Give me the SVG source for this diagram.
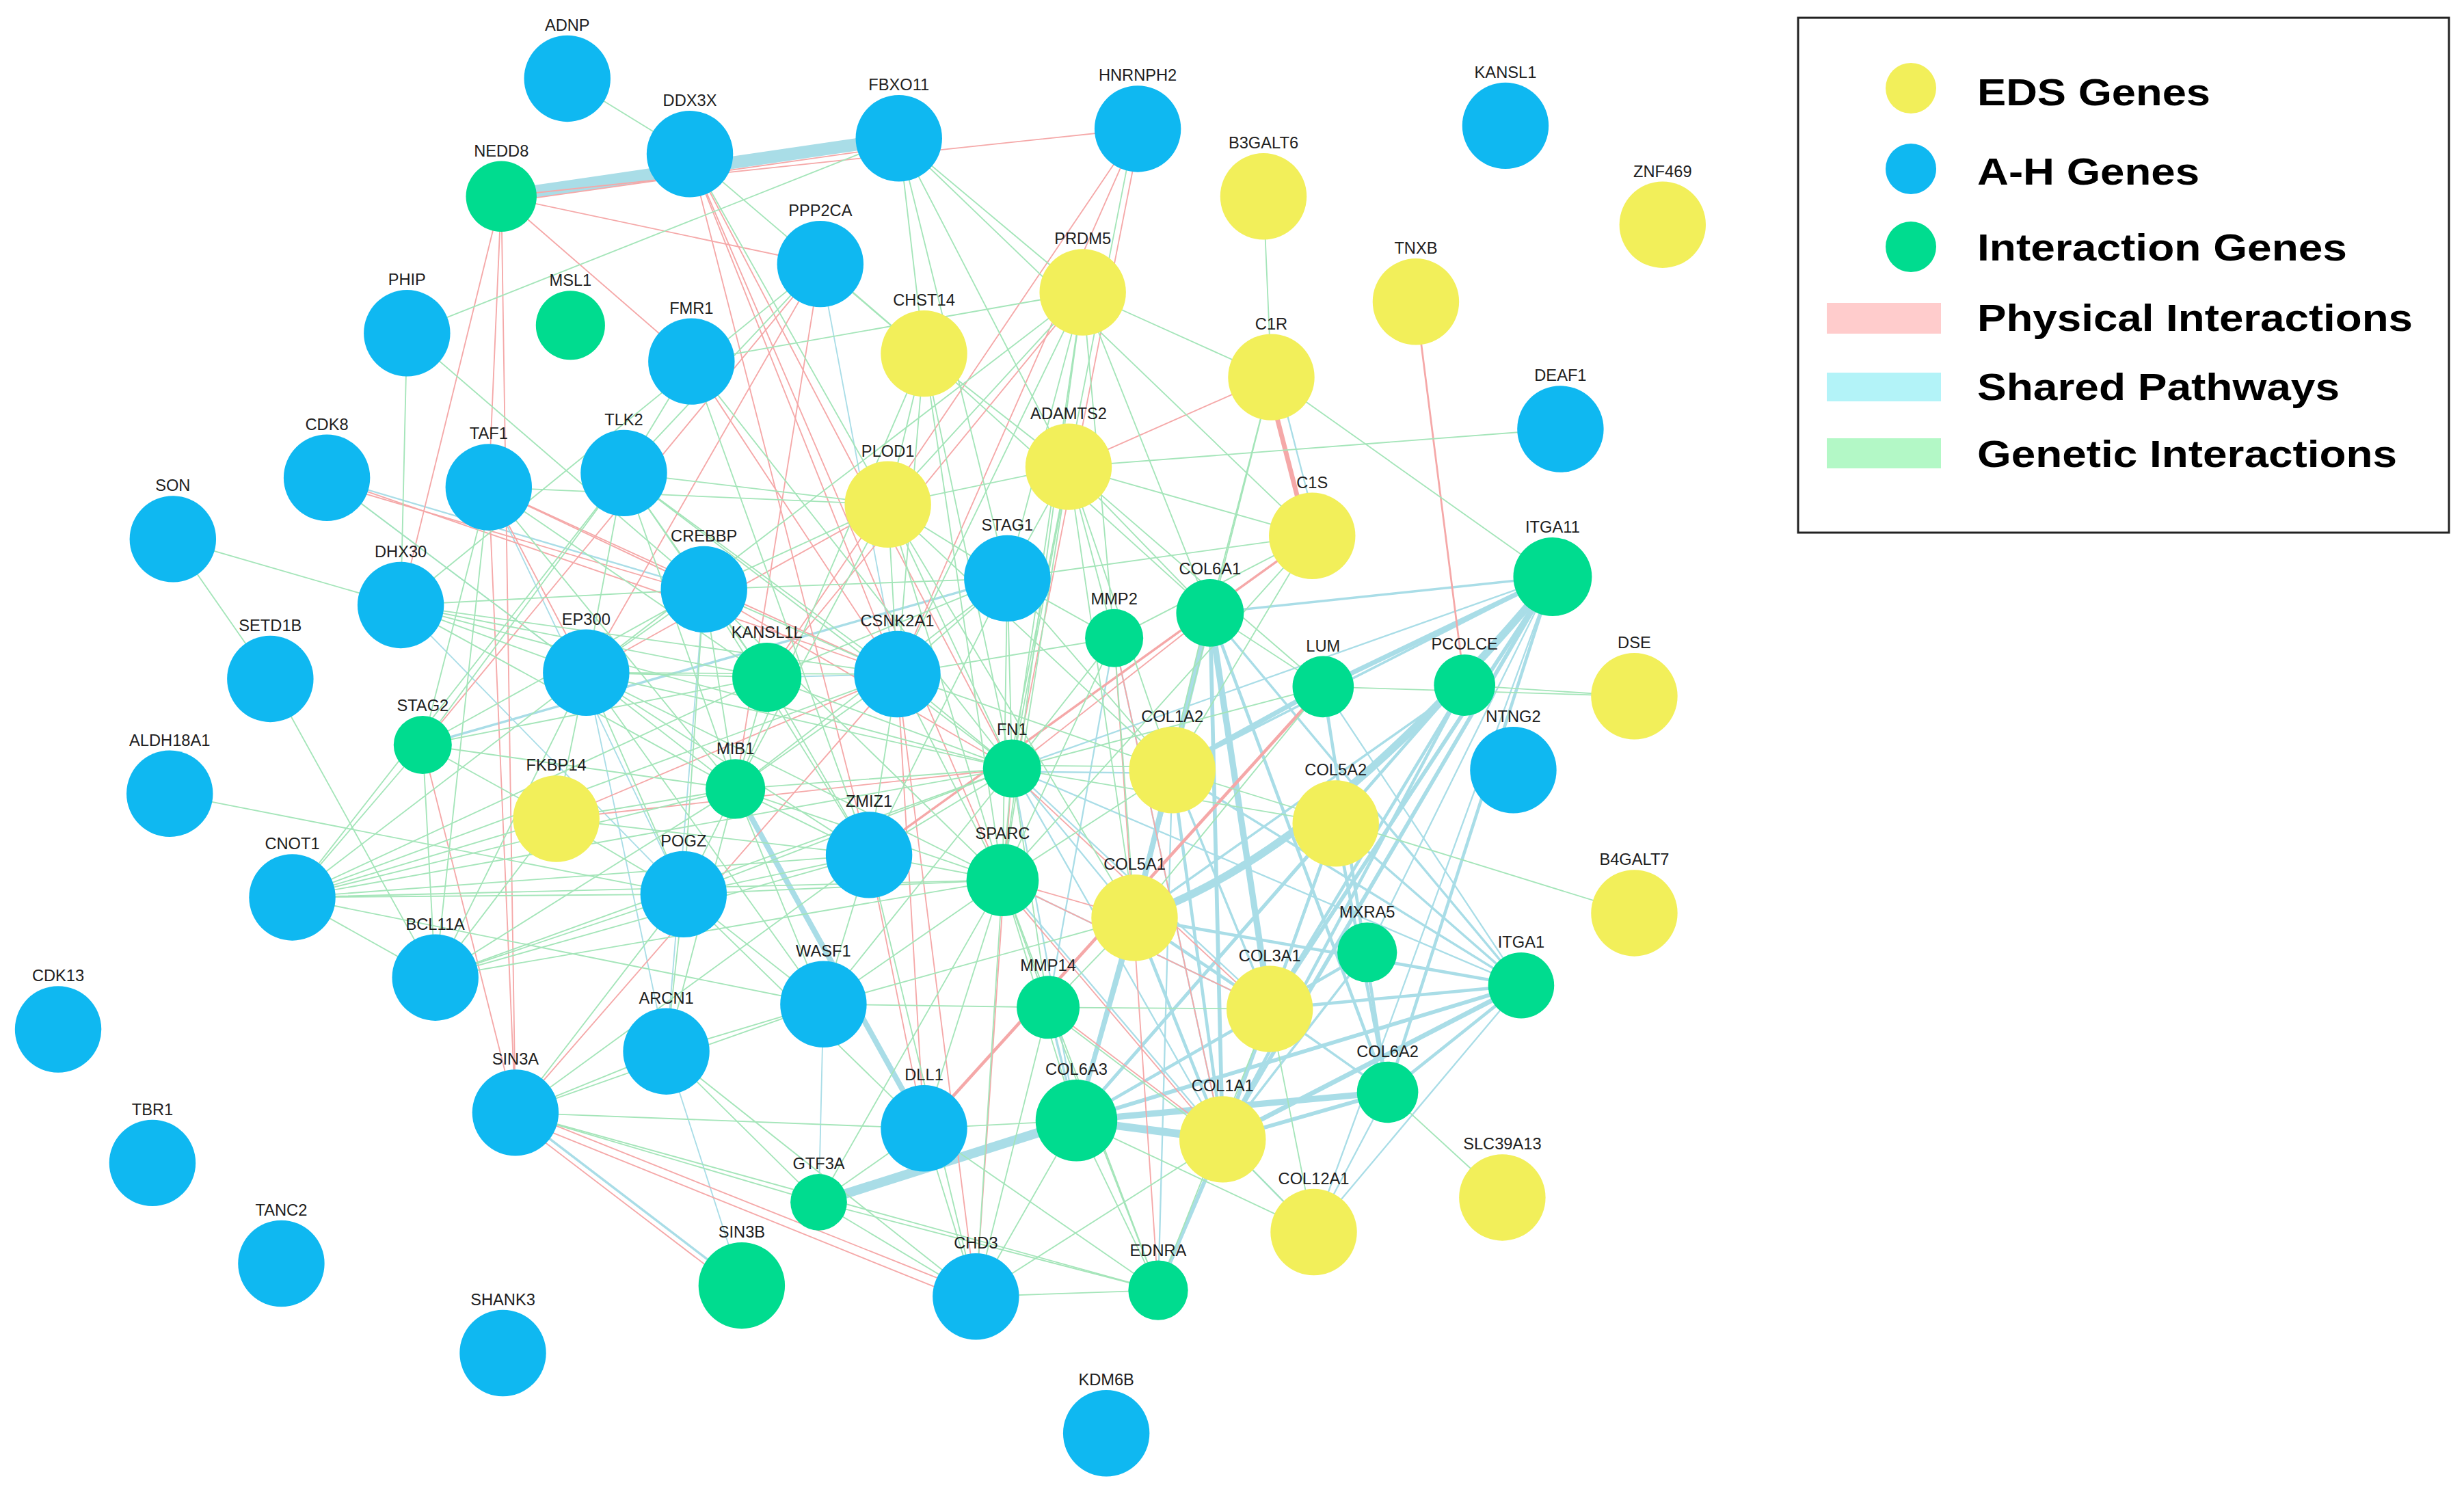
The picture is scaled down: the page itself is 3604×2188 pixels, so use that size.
<svg xmlns="http://www.w3.org/2000/svg" width="3604" height="2188" viewBox="0 0 3604 2188">
<style>
line,path{fill:none;stroke-linecap:round}
.p{stroke:#f5a8a8;stroke-width:0.8}
.s{stroke:#a9dde7;stroke-width:1}
.g{stroke:#a4e5b9;stroke-width:0.8}
.b{fill:#0fb8f1}
.y{fill:#f2ef5a}
.n{fill:#00dc8f}
.lb{font-family:"Liberation Sans",Arial,sans-serif;font-size:10.3px;fill:#1e1e1e;text-anchor:middle}
.lg{font-family:"Liberation Sans",Arial,sans-serif;font-weight:bold;font-size:55px;fill:#000}
</style>
<rect width="3604" height="2188" fill="#ffffff"/>
<g id="network" transform="scale(2.2985)">
<g id="connectors">
<g id="shared-pathways">
<line class="s" x1="319" y1="125" x2="572" y2="88" style="stroke-width:8"/>
<line class="s" x1="468" y1="502" x2="588" y2="718" style="stroke-width:3.5"/>
<line class="s" x1="521" y1="765" x2="685" y2="713" style="stroke-width:6"/>
<line class="s" x1="685" y1="713" x2="778" y2="725" style="stroke-width:5"/>
<line class="s" x1="685" y1="713" x2="883" y2="695" style="stroke-width:4"/>
<path class="s" d="M722,584 Q840,545 988,367" style="stroke-width:5"/>
<line class="s" x1="770" y1="390" x2="808" y2="642" style="stroke-width:4"/>
<line class="s" x1="770" y1="390" x2="722" y2="584" style="stroke-width:3.5"/>
<line class="s" x1="770" y1="390" x2="778" y2="725" style="stroke-width:2.5"/>
<line class="s" x1="770" y1="390" x2="883" y2="695" style="stroke-width:2"/>
<line class="s" x1="770" y1="390" x2="988" y2="367" style="stroke-width:1.5"/>
<line class="s" x1="842" y1="437" x2="988" y2="367" style="stroke-width:3"/>
<line class="s" x1="842" y1="437" x2="746" y2="490" style="stroke-width:3"/>
<line class="s" x1="842" y1="437" x2="883" y2="695" style="stroke-width:2"/>
<line class="s" x1="988" y1="367" x2="778" y2="725" style="stroke-width:2.5"/>
<line class="s" x1="988" y1="367" x2="808" y2="642" style="stroke-width:2.5"/>
<line class="s" x1="988" y1="367" x2="685" y2="713" style="stroke-width:2"/>
<line class="s" x1="988" y1="367" x2="883" y2="695" style="stroke-width:2"/>
<line class="s" x1="988" y1="367" x2="746" y2="490" style="stroke-width:1.5"/>
<line class="s" x1="988" y1="367" x2="836" y2="784"/>
<line class="s" x1="988" y1="367" x2="870" y2="606"/>
<line class="s" x1="932" y1="436" x2="778" y2="725" style="stroke-width:2"/>
<line class="s" x1="932" y1="436" x2="808" y2="642" style="stroke-width:2"/>
<line class="s" x1="932" y1="436" x2="722" y2="584" style="stroke-width:1.5"/>
<line class="s" x1="968" y1="627" x2="778" y2="725" style="stroke-width:3"/>
<line class="s" x1="968" y1="627" x2="685" y2="713" style="stroke-width:2.5"/>
<line class="s" x1="968" y1="627" x2="808" y2="642" style="stroke-width:2"/>
<line class="s" x1="968" y1="627" x2="722" y2="584" style="stroke-width:2"/>
<line class="s" x1="968" y1="627" x2="746" y2="490" style="stroke-width:1.5"/>
<line class="s" x1="968" y1="627" x2="770" y2="390" style="stroke-width:1.5"/>
<line class="s" x1="968" y1="627" x2="883" y2="695" style="stroke-width:2"/>
<line class="s" x1="968" y1="627" x2="850" y2="524" style="stroke-width:1.5"/>
<line class="s" x1="968" y1="627" x2="842" y2="437"/>
<line class="s" x1="968" y1="627" x2="836" y2="784"/>
<line class="s" x1="870" y1="606" x2="808" y2="642" style="stroke-width:2"/>
<line class="s" x1="870" y1="606" x2="778" y2="725" style="stroke-width:1.5"/>
<line class="s" x1="850" y1="524" x2="808" y2="642" style="stroke-width:2"/>
<line class="s" x1="850" y1="524" x2="685" y2="713" style="stroke-width:2"/>
<line class="s" x1="850" y1="524" x2="778" y2="725" style="stroke-width:1.5"/>
<line class="s" x1="850" y1="524" x2="883" y2="695" style="stroke-width:2"/>
<line class="s" x1="746" y1="490" x2="778" y2="725" style="stroke-width:2"/>
<line class="s" x1="746" y1="490" x2="808" y2="642" style="stroke-width:1.5"/>
<line class="s" x1="746" y1="490" x2="722" y2="584" style="stroke-width:2.5"/>
<line class="s" x1="746" y1="490" x2="685" y2="713" style="stroke-width:2"/>
<line class="s" x1="746" y1="490" x2="737" y2="821"/>
<line class="s" x1="722" y1="584" x2="778" y2="725" style="stroke-width:2"/>
<line class="s" x1="722" y1="584" x2="808" y2="642" style="stroke-width:2"/>
<line class="s" x1="722" y1="584" x2="685" y2="713" style="stroke-width:3"/>
<line class="s" x1="808" y1="642" x2="778" y2="725" style="stroke-width:2.5"/>
<line class="s" x1="808" y1="642" x2="883" y2="695" style="stroke-width:1.5"/>
<line class="s" x1="808" y1="642" x2="685" y2="713" style="stroke-width:2"/>
<line class="s" x1="778" y1="725" x2="737" y2="821" style="stroke-width:2.5"/>
<line class="s" x1="778" y1="725" x2="836" y2="784"/>
<line class="s" x1="883" y1="695" x2="778" y2="725" style="stroke-width:2.5"/>
<line class="s" x1="883" y1="695" x2="836" y2="784"/>
<line class="s" x1="644" y1="489" x2="778" y2="725"/>
<line class="s" x1="644" y1="489" x2="722" y2="584"/>
<line class="s" x1="644" y1="489" x2="808" y2="642"/>
<line class="s" x1="644" y1="489" x2="685" y2="713"/>
<line class="s" x1="644" y1="489" x2="968" y2="627"/>
<line class="s" x1="644" y1="489" x2="988" y2="367"/>
<line class="s" x1="644" y1="491" x2="746" y2="492"/>
<line class="s" x1="638" y1="560" x2="778" y2="725"/>
<line class="s" x1="638" y1="560" x2="808" y2="642"/>
<line class="s" x1="709" y1="406" x2="778" y2="725"/>
<line class="s" x1="709" y1="406" x2="667" y2="641"/>
<line class="s" x1="667" y1="641" x2="685" y2="713" style="stroke-width:1.5"/>
<line class="s" x1="269" y1="474" x2="641" y2="368" style="stroke-width:1.5"/>
<line class="s" x1="208" y1="304" x2="448" y2="375"/>
<line class="s" x1="208" y1="304" x2="373" y2="428" style="stroke-width:0.8"/>
<line class="s" x1="311" y1="310" x2="435" y2="569" style="stroke-width:0.8"/>
<line class="s" x1="255" y1="385" x2="435" y2="569" style="stroke-width:0.8"/>
<line class="s" x1="373" y1="428" x2="424" y2="669" style="stroke-width:0.8"/>
<line class="s" x1="448" y1="375" x2="424" y2="669" style="stroke-width:0.8"/>
<line class="s" x1="328" y1="708" x2="472" y2="818" style="stroke-width:1.5"/>
<line class="s" x1="424" y1="669" x2="472" y2="818" style="stroke-width:0.8"/>
<line class="s" x1="522" y1="168" x2="571" y2="429" style="stroke-width:0.8"/>
<line class="s" x1="524" y1="639" x2="521" y2="765" style="stroke-width:0.8"/>
<line class="s" x1="488" y1="431" x2="571" y2="429" style="stroke-width:0.8"/>
<line class="s" x1="813" y1="240" x2="839" y2="341"/>
</g>
<g id="physical-interactions">
<line class="p" x1="319" y1="125" x2="724" y2="82"/>
<line class="p" x1="319" y1="129" x2="572" y2="93"/>
<line class="p" x1="319" y1="125" x2="522" y2="168"/>
<line class="p" x1="319" y1="125" x2="440" y2="230"/>
<line class="p" x1="319" y1="125" x2="311" y2="310"/>
<line class="p" x1="319" y1="125" x2="255" y2="385"/>
<line class="p" x1="319" y1="125" x2="328" y2="708"/>
<line class="p" x1="439" y1="98" x2="553" y2="544"/>
<line class="p" x1="439" y1="98" x2="571" y2="429"/>
<line class="p" x1="439" y1="98" x2="644" y2="489"/>
<line class="p" x1="439" y1="98" x2="638" y2="560"/>
<line class="p" x1="724" y1="82" x2="571" y2="429"/>
<line class="p" x1="724" y1="82" x2="488" y2="431"/>
<line class="p" x1="726" y1="82" x2="646" y2="489"/>
<line class="p" x1="689" y1="186" x2="488" y2="431"/>
<line class="p" x1="522" y1="168" x2="373" y2="428"/>
<line class="p" x1="522" y1="168" x2="468" y2="502"/>
<line class="p" x1="522" y1="168" x2="269" y2="474"/>
<line class="p" x1="806" y1="240" x2="832" y2="341" style="stroke-width:3"/>
<line class="p" x1="809" y1="240" x2="680" y2="297"/>
<line class="p" x1="835" y1="341" x2="553" y2="544" style="stroke-width:1.5"/>
<line class="p" x1="901" y1="192" x2="932" y2="436" style="stroke-width:1.2"/>
<line class="p" x1="842" y1="437" x2="588" y2="718" style="stroke-width:2"/>
<line class="p" x1="709" y1="406" x2="778" y2="725"/>
<line class="p" x1="709" y1="406" x2="737" y2="821"/>
<line class="p" x1="638" y1="560" x2="808" y2="642"/>
<line class="p" x1="638" y1="563" x2="778" y2="728"/>
<line class="p" x1="638" y1="560" x2="722" y2="584"/>
<line class="p" x1="644" y1="492" x2="808" y2="645"/>
<line class="p" x1="644" y1="489" x2="770" y2="390"/>
<line class="p" x1="667" y1="641" x2="778" y2="725"/>
<line class="p" x1="311" y1="310" x2="571" y2="429"/>
<line class="p" x1="208" y1="304" x2="571" y2="429"/>
<line class="p" x1="208" y1="307" x2="448" y2="378"/>
<line class="p" x1="311" y1="310" x2="448" y2="375"/>
<line class="p" x1="311" y1="310" x2="373" y2="428"/>
<line class="p" x1="448" y1="375" x2="644" y2="489"/>
<line class="p" x1="354" y1="521" x2="644" y2="489"/>
<line class="p" x1="354" y1="521" x2="571" y2="429"/>
<line class="p" x1="373" y1="428" x2="565" y2="321"/>
<line class="p" x1="328" y1="706" x2="621" y2="823"/>
<line class="p" x1="330" y1="712" x2="620" y2="829"/>
<line class="p" x1="326" y1="711" x2="470" y2="821"/>
<line class="p" x1="311" y1="310" x2="328" y2="708"/>
<line class="p" x1="269" y1="474" x2="328" y2="708"/>
<line class="p" x1="328" y1="708" x2="571" y2="429"/>
<line class="p" x1="571" y1="429" x2="621" y2="825"/>
<line class="p" x1="644" y1="489" x2="621" y2="825"/>
<line class="p" x1="440" y1="230" x2="571" y2="429"/>
<line class="p" x1="571" y1="429" x2="588" y2="718"/>
<line class="p" x1="553" y1="544" x2="588" y2="718"/>
</g>
<g id="genetic-interactions">
<line class="g" x1="361" y1="50" x2="439" y2="98"/>
<line class="g" x1="439" y1="98" x2="588" y2="225"/>
<line class="g" x1="439" y1="98" x2="565" y2="321"/>
<line class="g" x1="572" y1="88" x2="259" y2="212"/>
<line class="g" x1="572" y1="88" x2="588" y2="225"/>
<line class="g" x1="572" y1="88" x2="641" y2="368"/>
<line class="g" x1="572" y1="88" x2="689" y2="186"/>
<line class="g" x1="572" y1="88" x2="835" y2="341"/>
<line class="g" x1="572" y1="88" x2="680" y2="297"/>
<line class="g" x1="722" y1="82" x2="642" y2="489"/>
<line class="g" x1="804" y1="125" x2="809" y2="240"/>
<line class="g" x1="689" y1="186" x2="565" y2="321"/>
<line class="g" x1="689" y1="186" x2="809" y2="240"/>
<line class="g" x1="689" y1="186" x2="641" y2="368"/>
<line class="g" x1="689" y1="186" x2="644" y2="489"/>
<line class="g" x1="689" y1="186" x2="638" y2="560"/>
<line class="g" x1="689" y1="186" x2="709" y2="406"/>
<line class="g" x1="689" y1="186" x2="571" y2="429"/>
<line class="g" x1="689" y1="186" x2="440" y2="230"/>
<line class="g" x1="689" y1="186" x2="373" y2="428"/>
<line class="g" x1="689" y1="186" x2="770" y2="390"/>
<line class="g" x1="588" y1="225" x2="565" y2="321"/>
<line class="g" x1="588" y1="225" x2="571" y2="429"/>
<line class="g" x1="588" y1="225" x2="644" y2="489"/>
<line class="g" x1="588" y1="225" x2="638" y2="560"/>
<line class="g" x1="588" y1="225" x2="680" y2="297"/>
<line class="g" x1="588" y1="225" x2="522" y2="168"/>
<line class="g" x1="588" y1="225" x2="770" y2="390"/>
<line class="g" x1="588" y1="225" x2="468" y2="502"/>
<line class="g" x1="522" y1="168" x2="397" y2="301"/>
<line class="g" x1="522" y1="168" x2="255" y2="385"/>
<line class="g" x1="440" y1="230" x2="397" y2="301"/>
<line class="g" x1="440" y1="230" x2="644" y2="489"/>
<line class="g" x1="440" y1="230" x2="553" y2="544"/>
<line class="g" x1="259" y1="212" x2="255" y2="385"/>
<line class="g" x1="259" y1="212" x2="448" y2="375"/>
<line class="g" x1="397" y1="301" x2="448" y2="375"/>
<line class="g" x1="397" y1="301" x2="373" y2="428"/>
<line class="g" x1="397" y1="301" x2="644" y2="489"/>
<line class="g" x1="397" y1="301" x2="468" y2="502"/>
<line class="g" x1="397" y1="301" x2="488" y2="431"/>
<line class="g" x1="397" y1="301" x2="571" y2="429"/>
<line class="g" x1="397" y1="301" x2="269" y2="474"/>
<line class="g" x1="397" y1="301" x2="186" y2="571"/>
<line class="g" x1="311" y1="310" x2="269" y2="474"/>
<line class="g" x1="311" y1="310" x2="468" y2="502"/>
<line class="g" x1="311" y1="310" x2="488" y2="431"/>
<line class="g" x1="311" y1="310" x2="277" y2="622"/>
<line class="g" x1="208" y1="304" x2="373" y2="428"/>
<line class="g" x1="110" y1="343" x2="255" y2="385"/>
<line class="g" x1="110" y1="343" x2="172" y2="432"/>
<line class="g" x1="172" y1="432" x2="277" y2="622"/>
<line class="g" x1="108" y1="505" x2="435" y2="569"/>
<line class="g" x1="186" y1="571" x2="269" y2="474"/>
<line class="g" x1="186" y1="571" x2="373" y2="428"/>
<line class="g" x1="186" y1="571" x2="468" y2="502"/>
<line class="g" x1="186" y1="571" x2="488" y2="431"/>
<line class="g" x1="186" y1="571" x2="644" y2="489"/>
<line class="g" x1="186" y1="571" x2="571" y2="429"/>
<line class="g" x1="186" y1="571" x2="354" y2="521"/>
<line class="g" x1="186" y1="571" x2="435" y2="569"/>
<line class="g" x1="186" y1="571" x2="553" y2="544"/>
<line class="g" x1="186" y1="571" x2="638" y2="560"/>
<line class="g" x1="186" y1="571" x2="277" y2="622"/>
<line class="g" x1="186" y1="571" x2="524" y2="639"/>
<line class="g" x1="277" y1="622" x2="373" y2="428"/>
<line class="g" x1="277" y1="622" x2="468" y2="502"/>
<line class="g" x1="277" y1="622" x2="435" y2="569"/>
<line class="g" x1="277" y1="622" x2="553" y2="544"/>
<line class="g" x1="277" y1="622" x2="354" y2="521"/>
<line class="g" x1="277" y1="622" x2="638" y2="560"/>
<line class="g" x1="277" y1="622" x2="269" y2="474"/>
<line class="g" x1="277" y1="622" x2="644" y2="489"/>
<line class="g" x1="255" y1="385" x2="373" y2="428"/>
<line class="g" x1="255" y1="385" x2="488" y2="431"/>
<line class="g" x1="255" y1="385" x2="644" y2="489"/>
<line class="g" x1="255" y1="385" x2="571" y2="429"/>
<line class="g" x1="255" y1="385" x2="468" y2="502"/>
<line class="g" x1="255" y1="385" x2="448" y2="375"/>
<line class="g" x1="269" y1="474" x2="468" y2="502"/>
<line class="g" x1="269" y1="474" x2="448" y2="375"/>
<line class="g" x1="269" y1="474" x2="354" y2="521"/>
<line class="g" x1="269" y1="474" x2="488" y2="431"/>
<line class="g" x1="373" y1="428" x2="448" y2="375"/>
<line class="g" x1="373" y1="428" x2="488" y2="431"/>
<line class="g" x1="373" y1="428" x2="468" y2="502"/>
<line class="g" x1="373" y1="428" x2="571" y2="429"/>
<line class="g" x1="373" y1="428" x2="644" y2="489"/>
<line class="g" x1="373" y1="428" x2="553" y2="544"/>
<line class="g" x1="373" y1="428" x2="435" y2="569"/>
<line class="g" x1="373" y1="428" x2="354" y2="521"/>
<line class="g" x1="373" y1="428" x2="638" y2="560"/>
<line class="g" x1="373" y1="428" x2="524" y2="639"/>
<line class="g" x1="448" y1="375" x2="488" y2="431"/>
<line class="g" x1="448" y1="375" x2="571" y2="429"/>
<line class="g" x1="448" y1="375" x2="468" y2="502"/>
<line class="g" x1="448" y1="375" x2="641" y2="368"/>
<line class="g" x1="448" y1="375" x2="435" y2="569"/>
<line class="g" x1="448" y1="375" x2="553" y2="544"/>
<line class="g" x1="448" y1="375" x2="638" y2="560"/>
<line class="g" x1="448" y1="375" x2="565" y2="321"/>
<line class="g" x1="488" y1="431" x2="644" y2="489"/>
<line class="g" x1="488" y1="431" x2="468" y2="502"/>
<line class="g" x1="488" y1="431" x2="641" y2="368"/>
<line class="g" x1="488" y1="431" x2="553" y2="544"/>
<line class="g" x1="571" y1="429" x2="644" y2="489"/>
<line class="g" x1="571" y1="429" x2="641" y2="368"/>
<line class="g" x1="571" y1="429" x2="468" y2="502"/>
<line class="g" x1="571" y1="429" x2="638" y2="560"/>
<line class="g" x1="571" y1="429" x2="553" y2="544"/>
<line class="g" x1="571" y1="429" x2="709" y2="406"/>
<line class="g" x1="571" y1="429" x2="746" y2="490"/>
<line class="g" x1="571" y1="429" x2="565" y2="321"/>
<line class="g" x1="468" y1="502" x2="644" y2="489"/>
<line class="g" x1="468" y1="502" x2="435" y2="569"/>
<line class="g" x1="468" y1="502" x2="553" y2="544"/>
<line class="g" x1="468" y1="502" x2="638" y2="560"/>
<line class="g" x1="468" y1="502" x2="354" y2="521"/>
<line class="g" x1="468" y1="502" x2="524" y2="639"/>
<line class="g" x1="468" y1="502" x2="424" y2="669"/>
<line class="g" x1="644" y1="489" x2="638" y2="560"/>
<line class="g" x1="644" y1="487" x2="746" y2="488"/>
<line class="g" x1="644" y1="489" x2="709" y2="406"/>
<line class="g" x1="644" y1="489" x2="641" y2="368"/>
<line class="g" x1="644" y1="489" x2="553" y2="544"/>
<line class="g" x1="644" y1="489" x2="667" y2="641"/>
<line class="g" x1="644" y1="489" x2="842" y2="437"/>
<line class="g" x1="644" y1="489" x2="435" y2="569"/>
<line class="g" x1="644" y1="489" x2="524" y2="639"/>
<line class="g" x1="644" y1="489" x2="680" y2="297"/>
<line class="g" x1="644" y1="489" x2="565" y2="321"/>
<line class="g" x1="644" y1="489" x2="850" y2="524"/>
<line class="g" x1="638" y1="560" x2="553" y2="544"/>
<line class="g" x1="638" y1="560" x2="667" y2="641"/>
<line class="g" x1="638" y1="560" x2="746" y2="490"/>
<line class="g" x1="638" y1="560" x2="588" y2="718"/>
<line class="g" x1="638" y1="560" x2="435" y2="569"/>
<line class="g" x1="638" y1="560" x2="524" y2="639"/>
<line class="g" x1="638" y1="560" x2="621" y2="825"/>
<line class="g" x1="638" y1="560" x2="521" y2="765"/>
<line class="g" x1="638" y1="560" x2="685" y2="713"/>
<line class="g" x1="638" y1="560" x2="737" y2="821"/>
<line class="g" x1="553" y1="544" x2="435" y2="569"/>
<line class="g" x1="553" y1="544" x2="524" y2="639"/>
<line class="g" x1="553" y1="544" x2="621" y2="825"/>
<line class="g" x1="553" y1="544" x2="354" y2="521"/>
<line class="g" x1="435" y1="569" x2="524" y2="639"/>
<line class="g" x1="435" y1="569" x2="424" y2="669"/>
<line class="g" x1="435" y1="569" x2="328" y2="708"/>
<line class="g" x1="435" y1="569" x2="354" y2="521"/>
<line class="g" x1="435" y1="569" x2="588" y2="718"/>
<line class="g" x1="524" y1="639" x2="667" y2="641"/>
<line class="g" x1="524" y1="639" x2="328" y2="708"/>
<line class="g" x1="524" y1="639" x2="424" y2="669"/>
<line class="g" x1="524" y1="639" x2="722" y2="584"/>
<line class="g" x1="424" y1="669" x2="328" y2="708"/>
<line class="g" x1="424" y1="669" x2="521" y2="765"/>
<line class="g" x1="424" y1="669" x2="621" y2="825"/>
<line class="g" x1="328" y1="708" x2="521" y2="765"/>
<line class="g" x1="328" y1="708" x2="737" y2="821"/>
<line class="g" x1="328" y1="708" x2="588" y2="718"/>
<line class="g" x1="328" y1="708" x2="553" y2="544"/>
<line class="g" x1="521" y1="765" x2="621" y2="825"/>
<line class="g" x1="521" y1="765" x2="737" y2="821"/>
<line class="g" x1="521" y1="765" x2="588" y2="718"/>
<line class="g" x1="621" y1="825" x2="737" y2="821"/>
<line class="g" x1="621" y1="825" x2="588" y2="718"/>
<line class="g" x1="621" y1="825" x2="667" y2="641"/>
<line class="g" x1="621" y1="825" x2="685" y2="713"/>
<line class="g" x1="621" y1="825" x2="778" y2="725"/>
<line class="g" x1="737" y1="821" x2="685" y2="713"/>
<line class="g" x1="737" y1="821" x2="667" y2="641"/>
<line class="g" x1="737" y1="821" x2="588" y2="718"/>
<line class="g" x1="737" y1="821" x2="808" y2="642"/>
<line class="g" x1="667" y1="643" x2="778" y2="727"/>
<line class="g" x1="667" y1="641" x2="722" y2="584"/>
<line class="g" x1="667" y1="641" x2="808" y2="642"/>
<line class="g" x1="685" y1="713" x2="588" y2="718"/>
<line class="g" x1="565" y1="321" x2="680" y2="297"/>
<line class="g" x1="565" y1="321" x2="641" y2="368"/>
<line class="g" x1="565" y1="321" x2="638" y2="560"/>
<line class="g" x1="565" y1="321" x2="468" y2="502"/>
<line class="g" x1="565" y1="321" x2="397" y2="301"/>
<line class="g" x1="565" y1="321" x2="311" y2="310"/>
<line class="g" x1="565" y1="321" x2="746" y2="490"/>
<line class="g" x1="565" y1="321" x2="722" y2="584"/>
<line class="g" x1="680" y1="297" x2="993" y2="273"/>
<line class="g" x1="680" y1="297" x2="641" y2="368"/>
<line class="g" x1="680" y1="297" x2="638" y2="560"/>
<line class="g" x1="680" y1="297" x2="770" y2="390"/>
<line class="g" x1="680" y1="297" x2="835" y2="341"/>
<line class="g" x1="680" y1="297" x2="709" y2="406"/>
<line class="g" x1="680" y1="297" x2="746" y2="490"/>
<line class="g" x1="680" y1="297" x2="722" y2="584"/>
<line class="g" x1="680" y1="297" x2="842" y2="437"/>
<line class="g" x1="809" y1="240" x2="988" y2="367"/>
<line class="g" x1="809" y1="240" x2="770" y2="390"/>
<line class="g" x1="809" y1="240" x2="746" y2="490"/>
<line class="g" x1="835" y1="341" x2="641" y2="368"/>
<line class="g" x1="835" y1="341" x2="709" y2="406"/>
<line class="g" x1="835" y1="341" x2="746" y2="490"/>
<line class="g" x1="835" y1="341" x2="638" y2="560"/>
<line class="g" x1="641" y1="368" x2="709" y2="406"/>
<line class="g" x1="641" y1="368" x2="638" y2="560"/>
<line class="g" x1="641" y1="368" x2="746" y2="490"/>
<line class="g" x1="641" y1="368" x2="553" y2="544"/>
<line class="g" x1="641" y1="368" x2="468" y2="502"/>
<line class="g" x1="770" y1="390" x2="842" y2="437"/>
<line class="g" x1="768" y1="390" x2="744" y2="490"/>
<line class="g" x1="1040" y1="443" x2="932" y2="436"/>
<line class="g" x1="1040" y1="443" x2="842" y2="437"/>
<line class="g" x1="1040" y1="581" x2="746" y2="490"/>
<line class="g" x1="956" y1="762" x2="883" y2="695"/>
<line class="g" x1="836" y1="784" x2="778" y2="725"/>
<line class="g" x1="836" y1="784" x2="808" y2="642"/>
<line class="g" x1="836" y1="784" x2="685" y2="713"/>
<line class="g" x1="709" y1="406" x2="722" y2="584"/>
<line class="g" x1="709" y1="406" x2="638" y2="560"/>
<line class="g" x1="842" y1="437" x2="722" y2="584"/>
</g>
</g>
<g id="nodes">
<g id="node-ADNP"><circle class="b" cx="361" cy="50" r="27.5"/><text class="lb" x="361" y="19.5">ADNP</text></g>
<g id="node-DDX3X"><circle class="b" cx="439" cy="98" r="27.5"/><text class="lb" x="439" y="67.5">DDX3X</text></g>
<g id="node-FBXO11"><circle class="b" cx="572" cy="88" r="27.5"/><text class="lb" x="572" y="57.5">FBXO11</text></g>
<g id="node-HNRNPH2"><circle class="b" cx="724" cy="82" r="27.5"/><text class="lb" x="724" y="51.5">HNRNPH2</text></g>
<g id="node-KANSL1"><circle class="b" cx="958" cy="80" r="27.5"/><text class="lb" x="958" y="49.5">KANSL1</text></g>
<g id="node-NEDD8"><circle class="n" cx="319" cy="125" r="22.5"/><text class="lb" x="319" y="99.5">NEDD8</text></g>
<g id="node-B3GALT6"><circle class="y" cx="804" cy="125" r="27.5"/><text class="lb" x="804" y="94.5">B3GALT6</text></g>
<g id="node-ZNF469"><circle class="y" cx="1058" cy="143" r="27.5"/><text class="lb" x="1058" y="112.5">ZNF469</text></g>
<g id="node-PPP2CA"><circle class="b" cx="522" cy="168" r="27.5"/><text class="lb" x="522" y="137.5">PPP2CA</text></g>
<g id="node-PHIP"><circle class="b" cx="259" cy="212" r="27.5"/><text class="lb" x="259" y="181.5">PHIP</text></g>
<g id="node-MSL1"><circle class="n" cx="363" cy="207" r="22"/><text class="lb" x="363" y="182">MSL1</text></g>
<g id="node-FMR1"><circle class="b" cx="440" cy="230" r="27.5"/><text class="lb" x="440" y="199.5">FMR1</text></g>
<g id="node-CHST14"><circle class="y" cx="588" cy="225" r="27.5"/><text class="lb" x="588" y="194.5">CHST14</text></g>
<g id="node-PRDM5"><circle class="y" cx="689" cy="186" r="27.5"/><text class="lb" x="689" y="155.5">PRDM5</text></g>
<g id="node-TNXB"><circle class="y" cx="901" cy="192" r="27.5"/><text class="lb" x="901" y="161.5">TNXB</text></g>
<g id="node-C1R"><circle class="y" cx="809" cy="240" r="27.5"/><text class="lb" x="809" y="209.5">C1R</text></g>
<g id="node-DEAF1"><circle class="b" cx="993" cy="273" r="27.5"/><text class="lb" x="993" y="242.5">DEAF1</text></g>
<g id="node-CDK8"><circle class="b" cx="208" cy="304" r="27.5"/><text class="lb" x="208" y="273.5">CDK8</text></g>
<g id="node-TAF1"><circle class="b" cx="311" cy="310" r="27.5"/><text class="lb" x="311" y="279.5">TAF1</text></g>
<g id="node-TLK2"><circle class="b" cx="397" cy="301" r="27.5"/><text class="lb" x="397" y="270.5">TLK2</text></g>
<g id="node-PLOD1"><circle class="y" cx="565" cy="321" r="27.5"/><text class="lb" x="565" y="290.5">PLOD1</text></g>
<g id="node-ADAMTS2"><circle class="y" cx="680" cy="297" r="27.5"/><text class="lb" x="680" y="266.5">ADAMTS2</text></g>
<g id="node-C1S"><circle class="y" cx="835" cy="341" r="27.5"/><text class="lb" x="835" y="310.5">C1S</text></g>
<g id="node-SON"><circle class="b" cx="110" cy="343" r="27.5"/><text class="lb" x="110" y="312.5">SON</text></g>
<g id="node-DHX30"><circle class="b" cx="255" cy="385" r="27.5"/><text class="lb" x="255" y="354.5">DHX30</text></g>
<g id="node-CREBBP"><circle class="b" cx="448" cy="375" r="27.5"/><text class="lb" x="448" y="344.5">CREBBP</text></g>
<g id="node-STAG1"><circle class="b" cx="641" cy="368" r="27.5"/><text class="lb" x="641" y="337.5">STAG1</text></g>
<g id="node-COL6A1"><circle class="n" cx="770" cy="390" r="21.5"/><text class="lb" x="770" y="365.5">COL6A1</text></g>
<g id="node-ITGA11"><circle class="n" cx="988" cy="367" r="25"/><text class="lb" x="988" y="339">ITGA11</text></g>
<g id="node-MMP2"><circle class="n" cx="709" cy="406" r="18.5"/><text class="lb" x="709" y="384.5">MMP2</text></g>
<g id="node-SETD1B"><circle class="b" cx="172" cy="432" r="27.5"/><text class="lb" x="172" y="401.5">SETD1B</text></g>
<g id="node-EP300"><circle class="b" cx="373" cy="428" r="27.5"/><text class="lb" x="373" y="397.5">EP300</text></g>
<g id="node-KANSL1L"><circle class="n" cx="488" cy="431" r="22"/><text class="lb" x="488" y="406">KANSL1L</text></g>
<g id="node-CSNK2A1"><circle class="b" cx="571" cy="429" r="27.5"/><text class="lb" x="571" y="398.5">CSNK2A1</text></g>
<g id="node-LUM"><circle class="n" cx="842" cy="437" r="19.5"/><text class="lb" x="842" y="414.5">LUM</text></g>
<g id="node-PCOLCE"><circle class="n" cx="932" cy="436" r="19.5"/><text class="lb" x="932" y="413.5">PCOLCE</text></g>
<g id="node-DSE"><circle class="y" cx="1040" cy="443" r="27.5"/><text class="lb" x="1040" y="412.5">DSE</text></g>
<g id="node-STAG2"><circle class="n" cx="269" cy="474" r="18.5"/><text class="lb" x="269" y="452.5">STAG2</text></g>
<g id="node-ALDH18A1"><circle class="b" cx="108" cy="505" r="27.5"/><text class="lb" x="108" y="474.5">ALDH18A1</text></g>
<g id="node-MIB1"><circle class="n" cx="468" cy="502" r="19"/><text class="lb" x="468" y="480">MIB1</text></g>
<g id="node-FN1"><circle class="n" cx="644" cy="489" r="18.5"/><text class="lb" x="644" y="467.5">FN1</text></g>
<g id="node-COL1A2"><circle class="y" cx="746" cy="490" r="27.5"/><text class="lb" x="746" y="459.5">COL1A2</text></g>
<g id="node-NTNG2"><circle class="b" cx="963" cy="490" r="27.5"/><text class="lb" x="963" y="459.5">NTNG2</text></g>
<g id="node-FKBP14"><circle class="y" cx="354" cy="521" r="27.5"/><text class="lb" x="354" y="490.5">FKBP14</text></g>
<g id="node-COL5A2"><circle class="y" cx="850" cy="524" r="27.5"/><text class="lb" x="850" y="493.5">COL5A2</text></g>
<g id="node-ZMIZ1"><circle class="b" cx="553" cy="544" r="27.5"/><text class="lb" x="553" y="513.5">ZMIZ1</text></g>
<g id="node-CNOT1"><circle class="b" cx="186" cy="571" r="27.5"/><text class="lb" x="186" y="540.5">CNOT1</text></g>
<g id="node-POGZ"><circle class="b" cx="435" cy="569" r="27.5"/><text class="lb" x="435" y="538.5">POGZ</text></g>
<g id="node-SPARC"><circle class="n" cx="638" cy="560" r="23"/><text class="lb" x="638" y="534">SPARC</text></g>
<g id="node-COL5A1"><circle class="y" cx="722" cy="584" r="27.5"/><text class="lb" x="722" y="553.5">COL5A1</text></g>
<g id="node-B4GALT7"><circle class="y" cx="1040" cy="581" r="27.5"/><text class="lb" x="1040" y="550.5">B4GALT7</text></g>
<g id="node-MXRA5"><circle class="n" cx="870" cy="606" r="19"/><text class="lb" x="870" y="584">MXRA5</text></g>
<g id="node-BCL11A"><circle class="b" cx="277" cy="622" r="27.5"/><text class="lb" x="277" y="591.5">BCL11A</text></g>
<g id="node-ITGA1"><circle class="n" cx="968" cy="627" r="21"/><text class="lb" x="968" y="603">ITGA1</text></g>
<g id="node-CDK13"><circle class="b" cx="37" cy="655" r="27.5"/><text class="lb" x="37" y="624.5">CDK13</text></g>
<g id="node-WASF1"><circle class="b" cx="524" cy="639" r="27.5"/><text class="lb" x="524" y="608.5">WASF1</text></g>
<g id="node-MMP14"><circle class="n" cx="667" cy="641" r="20"/><text class="lb" x="667" y="618">MMP14</text></g>
<g id="node-COL3A1"><circle class="y" cx="808" cy="642" r="27.5"/><text class="lb" x="808" y="611.5">COL3A1</text></g>
<g id="node-ARCN1"><circle class="b" cx="424" cy="669" r="27.5"/><text class="lb" x="424" y="638.5">ARCN1</text></g>
<g id="node-COL6A2"><circle class="n" cx="883" cy="695" r="19.5"/><text class="lb" x="883" y="672.5">COL6A2</text></g>
<g id="node-SIN3A"><circle class="b" cx="328" cy="708" r="27.5"/><text class="lb" x="328" y="677.5">SIN3A</text></g>
<g id="node-COL6A3"><circle class="n" cx="685" cy="713" r="26"/><text class="lb" x="685" y="684">COL6A3</text></g>
<g id="node-DLL1"><circle class="b" cx="588" cy="718" r="27.5"/><text class="lb" x="588" y="687.5">DLL1</text></g>
<g id="node-COL1A1"><circle class="y" cx="778" cy="725" r="27.5"/><text class="lb" x="778" y="694.5">COL1A1</text></g>
<g id="node-TBR1"><circle class="b" cx="97" cy="740" r="27.5"/><text class="lb" x="97" y="709.5">TBR1</text></g>
<g id="node-GTF3A"><circle class="n" cx="521" cy="765" r="18"/><text class="lb" x="521" y="744">GTF3A</text></g>
<g id="node-SLC39A13"><circle class="y" cx="956" cy="762" r="27.5"/><text class="lb" x="956" y="731.5">SLC39A13</text></g>
<g id="node-COL12A1"><circle class="y" cx="836" cy="784" r="27.5"/><text class="lb" x="836" y="753.5">COL12A1</text></g>
<g id="node-TANC2"><circle class="b" cx="179" cy="804" r="27.5"/><text class="lb" x="179" y="773.5">TANC2</text></g>
<g id="node-SIN3B"><circle class="n" cx="472" cy="818" r="27.5"/><text class="lb" x="472" y="787.5">SIN3B</text></g>
<g id="node-CHD3"><circle class="b" cx="621" cy="825" r="27.5"/><text class="lb" x="621" y="794.5">CHD3</text></g>
<g id="node-EDNRA"><circle class="n" cx="737" cy="821" r="19"/><text class="lb" x="737" y="799">EDNRA</text></g>
<g id="node-SHANK3"><circle class="b" cx="320" cy="861" r="27.5"/><text class="lb" x="320" y="830.5">SHANK3</text></g>
<g id="node-KDM6B"><circle class="b" cx="704" cy="912" r="27.5"/><text class="lb" x="704" y="881.5">KDM6B</text></g>
</g>
</g>
<g id="legend">
<rect x="2630" y="26" width="952" height="753" fill="#ffffff" stroke="#222222" stroke-width="3"/>
<circle cx="2795" cy="129" r="37" fill="#f2ef5a"/>
<circle cx="2795" cy="247" r="37" fill="#0fb8f1"/>
<circle cx="2795" cy="361" r="37" fill="#00dc8f"/>
<rect x="2672" y="443" width="167" height="45" fill="#ffcccc"/>
<rect x="2672" y="545" width="167" height="42" fill="#b3f3f8"/>
<rect x="2672" y="641" width="167" height="44" fill="#b3f8c6"/>
<text class="lg" x="2892" y="154" textLength="341" lengthAdjust="spacingAndGlyphs">EDS Genes</text>
<text class="lg" x="2892" y="270" textLength="325" lengthAdjust="spacingAndGlyphs">A-H Genes</text>
<text class="lg" x="2892" y="381" textLength="541" lengthAdjust="spacingAndGlyphs">Interaction Genes</text>
<text class="lg" x="2892" y="484" textLength="637" lengthAdjust="spacingAndGlyphs">Physical Interactions</text>
<text class="lg" x="2892" y="585" textLength="530" lengthAdjust="spacingAndGlyphs">Shared Pathways</text>
<text class="lg" x="2892" y="683" textLength="614" lengthAdjust="spacingAndGlyphs">Genetic Interactions</text>
</g>
</svg>
